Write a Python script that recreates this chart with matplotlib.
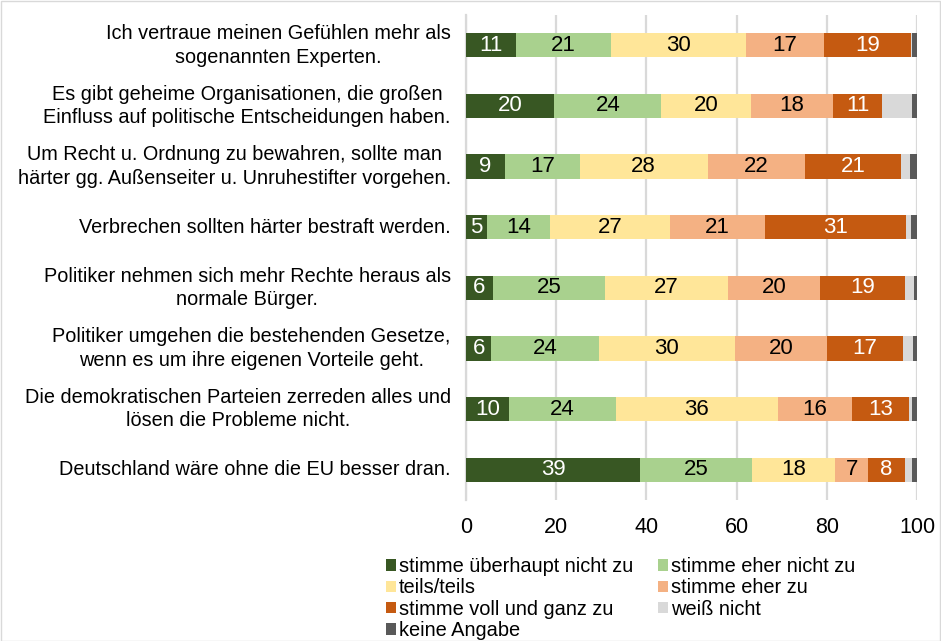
import matplotlib
matplotlib.use("Agg")
import matplotlib.pyplot as plt
from matplotlib.patches import Rectangle, Patch
import numpy as np

plt.rcParams['font.family'] = ['Liberation Sans', 'DejaVu Sans']

categories = [
    "Ich vertraue meinen Gefühlen mehr als\nsogenannten Experten.",
    "Es gibt geheime Organisationen, die großen\nEinfluss auf politische Entscheidungen haben.",
    "Um Recht u. Ordnung zu bewahren, sollte man\nhärter gg. Außenseiter u. Unruhestifter vorgehen.",
    "Verbrechen sollten härter bestraft werden.",
    "Politiker nehmen sich mehr Rechte heraus als\nnormale Bürger.",
    "Politiker umgehen die bestehenden Gesetze,\nwenn es um ihre eigenen Vorteile geht.",
    "Die demokratischen Parteien zerreden alles und\nlösen die Probleme nicht.",
    "Deutschland wäre ohne die EU besser dran.",
]

series_names = [
    "stimme überhaupt nicht zu",
    "stimme eher nicht zu",
    "teils/teils",
    "stimme eher zu",
    "stimme voll und ganz zu",
    "weiß nicht",
    "keine Angabe",
]

ueberhaupt_nicht = [11.1, 19.6, 8.6, 4.6, 6.0, 5.6, 9.6, 38.6]
eher_nicht = [21.1, 23.7, 16.6, 14.0, 24.8, 23.8, 23.7, 24.8]
teils = [29.8, 20.0, 28.4, 26.7, 27.4, 30.2, 35.8, 18.4]
eher_zu = [17.4, 18.0, 21.6, 20.9, 20.4, 20.4, 16.4, 7.4]
voll_zu = [19.2, 11.0, 21.3, 31.3, 18.7, 16.8, 12.8, 8.1]
weiss_nicht = [0.4, 6.5, 2.0, 1.2, 2.0, 2.4, 0.7, 1.5]
keine_angabe = [1.0, 1.2, 1.5, 1.3, 0.7, 0.8, 1.0, 1.2]

series = [ueberhaupt_nicht, eher_nicht, teils, eher_zu, voll_zu, weiss_nicht, keine_angabe]
colors = ["#385723", "#A9D18E", "#FFE699", "#F4B183", "#C55A11", "#D9D9D9", "#595959"]
label_colors = ["white", "black", "black", "black", "white", None, None]

fig = plt.figure(figsize=(9.41, 6.41), dpi=100)
ax = fig.add_axes([466 / 941, 1 - 500 / 641, (917 - 466) / 941, (500 - 15) / 641])

y = np.arange(len(categories))
left = np.zeros(len(categories))
for vals, col, lc in zip(series, colors, label_colors):
    vals = np.array(vals)
    ax.barh(y, vals, left=left, height=0.4, color=col, edgecolor='none', zorder=3)
    if lc is not None:
        for yi, (l, v) in enumerate(zip(left, vals)):
            ax.text(l + v / 2, yi, f"{int(round(v))}", ha='center', va='center',
                    color=lc, fontsize=16, zorder=4)
    left += vals

ax.set_xlim(0, 100)
ax.set_ylim(len(categories) - 0.5, -0.5)
ax.set_xticks([0, 20, 40, 60, 80, 100])
ax.set_yticks(y)
ax.set_yticklabels(categories, fontsize=14.3, linespacing=1.3, multialignment='center',
                   va='center')
ax.tick_params(axis='both', length=0)
ax.tick_params(axis='x', labelsize=15.5, pad=12)
ax.tick_params(axis='y', pad=11)
ax.grid(axis='x', color='#D9D9D9', linewidth=1.6, zorder=0)
for s in ['top', 'right', 'bottom']:
    ax.spines[s].set_visible(False)
ax.spines['left'].set_color('#D9D9D9')
ax.spines['left'].set_linewidth(1.6)

handles = [Patch(facecolor=c, edgecolor='none') for c in colors]
order = [0, 2, 4, 6, 1, 3, 5]
fig.legend([handles[i] for i in order], [series_names[i] for i in order],
           ncol=2, loc='upper left', bbox_to_anchor=(376 / 941, 1 - 547 / 641),
           frameon=False, fontsize=14.4, handlelength=0.5, handleheight=0.5,
           handletextpad=0.15, labelspacing=0.12, columnspacing=1.25, borderpad=0)

fig.add_artist(Rectangle((0.5 / 941, 0.5 / 641), 1 - 1.5 / 941, 1 - 1.5 / 641,
                         transform=fig.transFigure, fill=False,
                         edgecolor='#D9D9D9', linewidth=1))

fig.savefig("out.png", dpi=100)
